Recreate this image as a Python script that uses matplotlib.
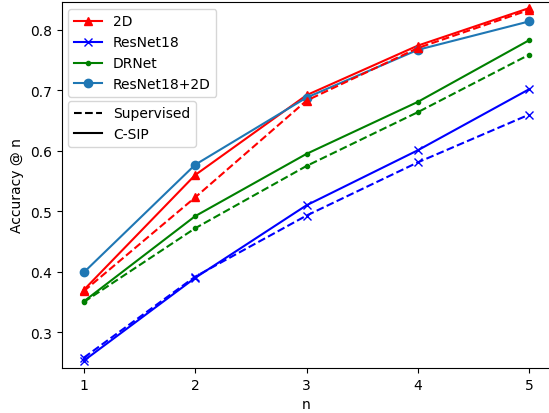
import matplotlib
matplotlib.use("Agg")
import matplotlib.pyplot as plt
from matplotlib.lines import Line2D

n = [1, 2, 3, 4, 5]

# C-SIP (solid)
csip_2d = [0.370, 0.560, 0.692, 0.774, 0.836]
csip_resnet18 = [0.253, 0.390, 0.510, 0.601, 0.702]
csip_drnet = [0.351, 0.492, 0.595, 0.681, 0.783]
csip_resnet18_2d = [0.399, 0.577, 0.688, 0.767, 0.814]

# Supervised (dashed)
sup_2d = [0.368, 0.523, 0.683, 0.770, 0.833]
sup_resnet18 = [0.258, 0.392, 0.493, 0.581, 0.660]
sup_drnet = [0.350, 0.472, 0.575, 0.664, 0.759]

model_names = ["2D", "ResNet18", "DRNet", "ResNet18+2D"]
colors = ["red", "blue", "green", "#1f77b4"]
markers = ["^", "x", ".", "o"]

W, H = 549, 414
fig = plt.figure(figsize=(W / 100, H / 100), dpi=100)
left, right, bottom, top = 61.5, 551.6, 369, 3
ax = fig.add_axes([left / W, (H - bottom) / H, (right - left) / W, (bottom - top) / H])

csip = [csip_2d, csip_resnet18, csip_drnet, csip_resnet18_2d]
sup = [sup_2d, sup_resnet18, sup_drnet, None]

for vals, c, m in zip(csip, colors, markers):
    ax.plot(n, vals, color=c, marker=m, linestyle="-")
for vals, c, m in zip(sup, colors, markers):
    if vals is not None:
        ax.plot(n, vals, color=c, marker=m, linestyle="--")

ax.set_xlim(0.8, 5.2)
ax.set_ylim(0.241, 0.846)
ax.set_xticks(n)
ax.set_yticks([0.3, 0.4, 0.5, 0.6, 0.7, 0.8])
ax.set_xlabel("n")
ax.set_ylabel("Accuracy @ n")

model_handles = [Line2D([], [], color=c, marker=m, linestyle="-") for c, m in zip(colors, markers)]
leg1 = ax.legend(model_handles, model_names, loc="upper left")
ax.add_artist(leg1)
style_handles = [Line2D([], [], color="black", linestyle="--"), Line2D([], [], color="black", linestyle="-")]
ax.legend(style_handles, ["Supervised", "C-SIP"], loc="upper left", bbox_to_anchor=(0, 0.749))

fig.savefig("out.png", dpi=100)
